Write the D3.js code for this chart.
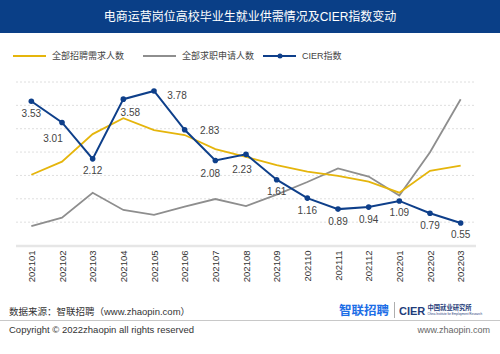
<!DOCTYPE html>
<html><head><meta charset="utf-8">
<script src="https://cdn.jsdelivr.net/npm/d3@7"></script>
<style>
html,body{margin:0;padding:0;background:#fff;}
svg{display:block;}
text{font-family:"Liberation Sans","Noto Sans CJK SC",sans-serif;}
</style></head>
<body>
<svg id="c" width="500" height="354"></svg>
<script>
const months = ["202101","202102","202103","202104","202105","202106","202107","202108","202109","202110","202111","202112","202201","202202","202203"];
const demand = [30.3,35.9,47.7,54.5,49.4,47.3,41.3,37.9,34.4,31.6,29.8,27.3,22.6,32.0,34.2];
const applicants = [8.3,11.9,22.6,15.2,13.1,16.6,19.9,16.9,21.8,27.2,33.0,29.5,21.4,39.9,62.6];
const cier = [3.53,3.01,2.12,3.58,3.78,2.83,2.08,2.23,1.61,1.16,0.89,0.94,1.09,0.79,0.55];
const seriesNames = ["全部招聘需求人数","全部求职申请人数","CIER指数"];
const title = "电商运营岗位高校毕业生就业供需情况及CIER指数变动";
// label offsets (styling only)
const labelDx = [0,-9,0,7,23,25,-5,-4,0,0,0,0,0,0,0];
const labelDy = [12,16,12,13,5,1,13,15,12,12,12,12,12,12,11];

const svg = d3.select("#c");
const C = {yellow:"#e5b50c", gray:"#8e8e8e", blue:"#0e3f8a", navy:"#0a3f87", text:"#444"};

// title bar
svg.append("rect").attr("x",0).attr("y",0).attr("width",500).attr("height",33).attr("fill",C.navy);
svg.append("text").attr("x",250).attr("y",17).attr("text-anchor","middle").attr("dominant-baseline","central")
  .attr("fill","#fff").attr("font-size",12).text(title);

// scales
const x = d3.scalePoint().domain(months).range([16,476]).padding(0.5);
const yL = d3.scaleLinear().domain([0,70]).range([245.5,82]);
const yR = d3.scaleLinear().domain([0,4]).range([245.5,82]);

// gridlines
const g = svg.append("g");
g.selectAll("line.grid").data(yL.ticks(7).filter(d=>d>0)).join("line")
  .attr("x1",16).attr("x2",476).attr("y1",d=>yL(d)).attr("y2",d=>yL(d))
  .attr("stroke","#d6d6d6").attr("stroke-width",0.8).attr("stroke-dasharray","2,2");
g.append("line").attr("x1",16).attr("x2",476).attr("y1",yL(0)+0.5).attr("y2",yL(0)+0.5)
  .attr("stroke","#e6e6e6").attr("stroke-width",2.5);

// x axis labels
const xa = svg.append("g").attr("transform",`translate(0,${yL(0)+5})`)
  .call(d3.axisBottom(x).tickSize(0).tickPadding(0));
xa.select(".domain").remove();
xa.selectAll(".tick text").attr("font-size",9.5).attr("fill","#333")
  .attr("font-family","Liberation Sans, sans-serif")
  .attr("transform","rotate(-90)").attr("text-anchor","end")
  .attr("x",0).attr("y",0).attr("dx",0).attr("dy","0.35em");

// lines
const lineL = d3.line().x((d,i)=>x(months[i])).y(d=>yL(d));
const lineR = d3.line().x((d,i)=>x(months[i])).y(d=>yR(d));
svg.append("path").attr("d",lineL(applicants)).attr("fill","none").attr("stroke",C.gray).attr("stroke-width",1.8);
svg.append("path").attr("d",lineL(demand)).attr("fill","none").attr("stroke",C.yellow).attr("stroke-width",1.8);
svg.append("path").attr("d",lineR(cier)).attr("fill","none").attr("stroke",C.blue).attr("stroke-width",2);
svg.selectAll("circle.pt").data(cier).join("circle").attr("class","pt")
  .attr("cx",(d,i)=>x(months[i])).attr("cy",d=>yR(d)).attr("r",2.8).attr("fill",C.blue);
svg.selectAll("text.lbl").data(cier).join("text").attr("class","lbl")
  .attr("x",(d,i)=>x(months[i])+labelDx[i]).attr("y",(d,i)=>yR(d)+labelDy[i])
  .attr("text-anchor","middle").attr("dominant-baseline","central")
  .attr("font-size",10).attr("fill",C.text).text(d=>d.toFixed(2));

// legend
const leg = [
  {x:13, color:C.yellow, dot:false},
  {x:143, color:C.gray, dot:false},
  {x:263, color:C.blue, dot:true}
];
leg.forEach((l,i)=>{
  svg.append("line").attr("x1",l.x).attr("x2",l.x+33).attr("y1",56).attr("y2",56)
    .attr("stroke",l.color).attr("stroke-width",2);
  if(l.dot) svg.append("circle").attr("cx",l.x+17).attr("cy",56).attr("r",2.5).attr("fill",l.color);
  svg.append("text").attr("x",l.x+39).attr("y",56).attr("dominant-baseline","central")
    .attr("font-size",9).attr("fill","#444").text(seriesNames[i]);
});

// footer
svg.append("text").attr("x",9).attr("y",311).attr("dominant-baseline","central")
  .attr("font-size",9.5).attr("fill","#333").text("数据来源：智联招聘（www.zhaopin.com）");
svg.append("line").attr("x1",0).attr("x2",500).attr("y1",320.5).attr("y2",320.5).attr("stroke","#c8c8c8").attr("stroke-width",1);
svg.append("text").attr("x",9).attr("y",329.5).attr("dominant-baseline","central")
  .attr("font-size",9.5).attr("fill","#333").text("Copyright ©  2022zhaopin all rights reserved");
svg.append("text").attr("x",490).attr("y",329.5).attr("dominant-baseline","central").attr("text-anchor","end")
  .attr("font-size",9).attr("fill","#666").text("www.zhaopin.com");

// logos
svg.append("text").attr("x",339).attr("y",310.5).attr("dominant-baseline","central")
  .attr("font-size",12.5).attr("font-weight","bold").attr("fill","#1d6ee6").text("智联招聘");
svg.append("line").attr("x1",394.5).attr("x2",394.5).attr("y1",302).attr("y2",318).attr("stroke","#999").attr("stroke-width",0.8);
svg.append("text").attr("x",399).attr("y",310.5).attr("dominant-baseline","central")
  .attr("font-size",11).attr("font-weight","bold").attr("fill","#1f3d7a").text("CIER");
svg.append("text").attr("x",427.5).attr("y",307.5).attr("dominant-baseline","central")
  .attr("font-size",6.3).attr("font-weight","bold").attr("fill","#1f3d7a").text("中国就业研究所");
svg.append("text").attr("x",427.5).attr("y",314).attr("dominant-baseline","central")
  .attr("font-size",3).attr("fill","#1f3d7a").text("China Institute for Employment Research");
</script>
</body></html>
